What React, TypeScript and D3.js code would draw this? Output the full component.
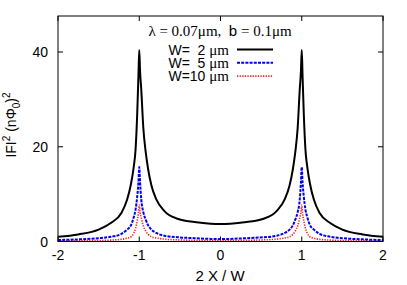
import React from "react";
import * as d3 from "d3";

// shared sampling positions (denser near the two peaks)
const xs = [
  -2, -1.75, -1.5, -1.35, -1.22, -1.15, -1.1, -1.07, -1.045, -1.025, -1.01, -1.0,
  -0.99, -0.975, -0.95, -0.92, -0.89, -0.85, -0.79, -0.69, -0.53, -0.32, -0.12, 0,
  0.12, 0.32, 0.53, 0.69, 0.79, 0.85, 0.89, 0.92, 0.95, 0.975, 0.99, 1.0,
  1.01, 1.025, 1.045, 1.07, 1.1, 1.15, 1.22, 1.35, 1.5, 1.75, 2,
];

const w2 = [
  1.0, 1.5, 2.5, 3.9, 6.0, 8.8, 12.3, 15.5, 19.5, 27, 35, 40.4,
  36, 32, 24, 18.8, 15.2, 11.8, 8.9, 6.4, 4.8, 4.1, 3.75, 3.7,
  3.75, 4.1, 4.8, 6.4, 8.9, 11.8, 15.2, 18.8, 24, 32, 36, 40.4,
  35, 27, 19.5, 15.5, 12.3, 8.8, 6.0, 3.9, 2.5, 1.5, 1.0,
];

const w5 = [
  0.3, 0.45, 0.7, 1.0, 1.6, 2.5, 3.5, 5.0, 6.8, 9.5, 12.5, 15.7,
  12.5, 8.8, 6.2, 4.6, 3.4, 2.5, 1.8, 1.2, 0.9, 0.7, 0.55, 0.5,
  0.55, 0.7, 0.9, 1.2, 1.8, 2.5, 3.4, 4.6, 6.2, 8.8, 12.5, 15.7,
  12.5, 9.5, 6.8, 5.0, 3.5, 2.5, 1.6, 1.0, 0.7, 0.45, 0.3,
];

const w10 = [
  0.1, 0.15, 0.2, 0.3, 0.45, 0.7, 1.0, 1.7, 2.8, 4.4, 6.0, 7.7,
  6.2, 5.0, 3.3, 2.2, 1.5, 1.0, 0.75, 0.5, 0.35, 0.25, 0.2, 0.2,
  0.2, 0.25, 0.35, 0.5, 0.75, 1.0, 1.5, 2.2, 3.3, 5.0, 6.2, 7.7,
  6.0, 4.4, 2.8, 1.7, 1.0, 0.7, 0.45, 0.3, 0.2, 0.15, 0.1,
];

const xTicks = [-2, -1, 0, 1, 2];
const yTicks = [0, 20, 40];
const keyLabels = ["W=  2 ", "W=  5 ", "W=10 "];

const seriesList = [
  { values: w2, color: "#000000", width: 2, dash: "none" },
  { values: w5, color: "#0000ee", width: 2, dash: "3,1.2" },
  { values: w10, color: "#ff2020", width: 1.6, dash: "1.3,1.3" },
];

const W = 407;
const H = 285;
const left = 58;
const right = 383;
const top = 16;
const bottom = 241.5;
const sans = "'Liberation Sans', Arial, sans-serif";
const serif = "'Liberation Serif', 'Times New Roman', serif";

export default function App() {
  const x = d3.scaleLinear().domain([-2, 2]).range([left, right]);
  const y = d3.scaleLinear().domain([0, 47.6]).range([bottom, top]);
  const tick = 5;

  const line = d3
    .line<number>()
    .x((_, i) => x(xs[i]))
    .y((d) => y(d))
    .curve(d3.curveMonotoneX);

  return (
    <svg
      width={W}
      height={H}
      style={{ position: "fixed", left: 0, top: 0, background: "#fff" }}
    >
      <defs>
        <clipPath id="plotClip">
          <rect x={left} y={top} width={right - left} height={bottom - top} />
        </clipPath>
      </defs>

      {/* ticks, mirrored on all sides */}
      {xTicks.map((t) => (
        <g key={"x" + t}>
          <line x1={x(t)} x2={x(t)} y1={bottom} y2={bottom - tick} stroke="#000" />
          <line x1={x(t)} x2={x(t)} y1={top} y2={top + tick} stroke="#000" />
          <text x={x(t)} y={260} textAnchor="middle" fontFamily={sans} fontSize={14}>
            {t}
          </text>
        </g>
      ))}
      {yTicks.map((t) => (
        <g key={"y" + t}>
          <line x1={left} x2={left + tick} y1={y(t)} y2={y(t)} stroke="#000" />
          <line x1={right} x2={right - tick} y1={y(t)} y2={y(t)} stroke="#000" />
          <text
            x={48}
            y={y(t)}
            dy="0.36em"
            textAnchor="end"
            fontFamily={sans}
            fontSize={14}
          >
            {t}
          </text>
        </g>
      ))}

      <g clipPath="url(#plotClip)">
        {seriesList
          .slice()
          .reverse()
          .map((s, i) => (
            <path
              key={i}
              d={line(s.values) || ""}
              fill="none"
              stroke={s.color}
              strokeWidth={s.width}
              strokeDasharray={s.dash}
            />
          ))}
      </g>

      <rect
        x={left}
        y={top}
        width={right - left}
        height={bottom - top}
        fill="none"
        stroke="#000"
      />

      {/* key */}
      <text x={220} y={35.5} textAnchor="middle" fontSize={15} style={{ whiteSpace: "pre" }}>
        <tspan fontFamily={serif}>λ = 0.07μm,  </tspan>
        <tspan fontFamily={sans}>b</tspan>
        <tspan fontFamily={serif}> = 0.1μm</tspan>
      </text>
      {seriesList.map((s, i) => {
        const cy = 49.5 + i * 13.3;
        return (
          <g key={"k" + i}>
            <text
              x={229}
              y={cy + 5}
              textAnchor="end"
              fontSize={14}
              style={{ whiteSpace: "pre" }}
            >
              <tspan fontFamily={sans}>{keyLabels[i]}</tspan>
              <tspan fontFamily={serif} fontSize={15}>μm</tspan>
            </text>
            <line
              x1={237}
              x2={273}
              y1={cy}
              y2={cy}
              stroke={s.color}
              strokeWidth={s.width}
              strokeDasharray={s.dash}
            />
          </g>
        );
      })}

      {/* axis titles */}
      <text
        transform="translate(16,125) rotate(-90)"
        textAnchor="middle"
        fontFamily={sans}
        fontSize={14}
      >
        <tspan>IFI</tspan>
        <tspan fontSize={10} dy={-6}>2</tspan>
        <tspan dy={6}> (n</tspan>
        <tspan>Φ</tspan>
        <tspan fontSize={10} dy={4}>0</tspan>
        <tspan dy={-4}>)</tspan>
        <tspan fontSize={10} dy={-6}>2</tspan>
      </text>
      <text x={220} y={281} textAnchor="middle" fontFamily={sans} fontSize={15}>
        2 X / W
      </text>
    </svg>
  );
}
